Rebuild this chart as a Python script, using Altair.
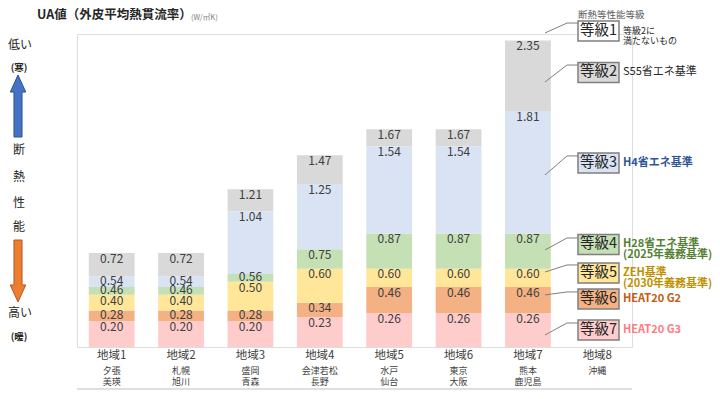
import altair as alt
import pandas as pd

# ---------------- data ----------------
regions = ["地域1", "地域2", "地域3", "地域4", "地域5", "地域6", "地域7", "地域8"]
cities1 = ["夕張", "札幌", "盛岡", "会津若松", "水戸", "東京", "熊本", "沖縄"]
cities2 = ["美瑛", "旭川", "青森", "長野", "仙台", "大阪", "鹿児島", ""]

grades = ["等級7", "等級6", "等級5", "等級4", "等級3", "等級2"]
g7 = [0.20, 0.20, 0.20, 0.23, 0.26, 0.26, 0.26, None]
g6 = [0.28, 0.28, 0.28, 0.34, 0.46, 0.46, 0.46, None]
g5 = [0.40, 0.40, 0.50, 0.60, 0.60, 0.60, 0.60, None]
g4 = [0.46, 0.46, 0.56, 0.75, 0.87, 0.87, 0.87, None]
g3 = [0.54, 0.54, 1.04, 1.25, 1.54, 1.54, 1.81, None]
g2 = [0.72, 0.72, 1.21, 1.47, 1.67, 1.67, 2.35, None]
seg_colors = ["#FFCCCC", "#F4B183", "#FFE699", "#C5E0B4", "#DAE3F3", "#D9D9D9"]

ann_grades = ["等級1", "等級2", "等級3", "等級4", "等級5", "等級6", "等級7"]
ann_desc = ["等級2に\n満たないもの", "S55省エネ基準", "H4省エネ基準",
            "H28省エネ基準\n(2025年義務基準)", "ZEH基準\n(2030年義務基準)",
            "HEAT20 G2", "HEAT20 G3"]
ann_fill = ["#FFFFFF", "#D9D9D9", "#DAE3F3", "#C5E0B4", "#FFE699", "#F4B183", "#FFCCCC"]
ann_text_color = ["#262626", "#262626", "#2F5597", "#548235", "#BF9000", "#C55A11", "#FF7C80"]
# vertical positions of the callouts in UA units
ann_box_y = [2.423, 2.105, 1.411, 0.786, 0.567, 0.368, 0.130]
ann_start_y = [2.408, 2.032, 1.319, 0.744, 0.575, 0.399, 0.092]
ann_elbow_y = [2.484, 2.162, 1.465, 0.836, 0.629, 0.422, 0.184]

y_ticks = [0.0, 0.2, 0.4, 0.6, 0.8, 1.0, 1.2, 1.4, 1.6, 1.8, 2.0, 2.2, 2.4]

# ---------------- tables ----------------
series = [g7, g6, g5, g4, g3, g2]
rows = []
for i, r in enumerate(regions):
    lo = 0.0
    for g, vals in zip(grades, series):
        v = vals[i]
        if v is None:
            continue
        rows.append({"region": r, "grade": g, "lo": lo, "hi": v})
        lo = v
seg_df = pd.DataFrame(rows)

reg_df = pd.DataFrame({"region": regions, "c1": cities1, "c2": cities2})

ann_df = pd.DataFrame({
    "grade": ann_grades, "desc": ann_desc, "fill": ann_fill, "tcol": ann_text_color,
    "box_y": ann_box_y, "start_y": ann_start_y, "elbow_y": ann_elbow_y,
})

FONT = "Noto Sans CJK JP"
W, H = 555, 313
BOX_HALF = 0.077  # half box height in UA units (~10px)
ys = alt.Scale(domain=[0, 2.4], nice=False, zero=False)
xs = alt.Scale(domain=regions, paddingInner=0.34, paddingOuter=0.17)

bars = alt.Chart(seg_df).mark_bar().encode(
    x=alt.X("region:N", scale=xs, sort=regions,
            axis=alt.Axis(labels=False, title=None, domain=True, domainColor="#BFBFBF",
                          ticks=True, tickBand="extent", tickSize=42, tickColor="#BFBFBF",
                          grid=False)),
    y=alt.Y("lo:Q", scale=ys,
            axis=alt.Axis(values=y_ticks, format=".2f", grid=True, gridColor="#E6E6E6",
                          domain=False, ticks=False, labelPadding=14, labelFontSize=13,
                          labelColor="#595959", labelFont=FONT, title=None)),
    y2="hi:Q",
    color=alt.Color("grade:N", scale=alt.Scale(domain=grades, range=seg_colors), legend=None),
)

# value label sits just inside the top of its segment (closer to the top for thin segments)
seg_labels = alt.Chart(seg_df).transform_calculate(
    ly="datum.hi - min(0.044, (datum.hi - datum.lo) / 2 - 0.009)"
).mark_text(
    baseline="middle", fontSize=12, color="#404040", font=FONT
).encode(
    x=alt.X("region:N", scale=xs, sort=regions, axis=None),
    y=alt.Y("ly:Q", scale=ys, axis=None),
    text=alt.Text("hi:Q", format=".2f"),
)

table_bottom = alt.Chart(pd.DataFrame({"a": [0]})).mark_rule(color="#BFBFBF").encode(
    x=alt.value(0), x2=alt.value(W), y=alt.value(H + 42))

reg_names = alt.Chart(reg_df).mark_text(fontSize=11.5, color="#404040", font=FONT,
                                         baseline="middle").encode(
    x=alt.X("region:N", scale=xs, sort=regions, axis=None), y=alt.value(H + 9), text="region:N")
reg_c1 = alt.Chart(reg_df).mark_text(fontSize=9, color="#404040", font=FONT,
                                      baseline="middle").encode(
    x=alt.X("region:N", scale=xs, sort=regions, axis=None), y=alt.value(H + 24), text="c1:N")
reg_c2 = alt.Chart(reg_df).mark_text(fontSize=9, color="#404040", font=FONT,
                                      baseline="middle").encode(
    x=alt.X("region:N", scale=xs, sort=regions, axis=None), y=alt.value(H + 35), text="c2:N")

# callouts
LX0, LX1, BX0, BX1 = 468, 490, 501, 542
leader_diag = alt.Chart(ann_df).mark_rule(color="#7F7F7F", strokeWidth=1).encode(
    x=alt.value(LX0), x2=alt.value(LX1),
    y=alt.Y("start_y:Q", scale=ys, axis=None), y2="elbow_y:Q")
leader_h = alt.Chart(ann_df).mark_rule(color="#7F7F7F", strokeWidth=1).encode(
    x=alt.value(LX1), x2=alt.value(BX0),
    y=alt.Y("elbow_y:Q", scale=ys, axis=None))
boxes = alt.Chart(ann_df).transform_calculate(
    top=f"datum.box_y + {BOX_HALF}", bot=f"datum.box_y - {BOX_HALF}"
).mark_rect(stroke="#7F7F7F", strokeWidth=1.5).encode(
    x=alt.value(BX0), x2=alt.value(BX1),
    y=alt.Y("top:Q", scale=ys, axis=None), y2="bot:Q",
    fill=alt.Fill("fill:N", scale=None))
box_text = alt.Chart(ann_df).mark_text(fontSize=14.5, color="#262626", font=FONT,
                                        baseline="middle", align="center").encode(
    x=alt.value((BX0 + BX1) / 2), y=alt.Y("box_y:Q", scale=ys, axis=None), text="grade:N")

desc1 = alt.Chart(ann_df).transform_filter("datum.grade == '等級1'").mark_text(
    fontSize=9, font=FONT, baseline="middle", align="left", lineBreak="\n", lineHeight=10
).encode(x=alt.value(BX1 + 4), y=alt.Y("box_y:Q", scale=ys, axis=None), text="desc:N",
         color=alt.Color("tcol:N", scale=None))
desc2 = alt.Chart(ann_df).transform_filter("datum.grade == '等級2'").mark_text(
    fontSize=11, font=FONT, baseline="middle", align="left"
).encode(x=alt.value(BX1 + 4), y=alt.Y("box_y:Q", scale=ys, axis=None), text="desc:N",
         color=alt.Color("tcol:N", scale=None))
desc3 = alt.Chart(ann_df).transform_filter("datum.grade != '等級1' && datum.grade != '等級2'").mark_text(
    fontSize=11, font=FONT, fontWeight="bold", baseline="middle", align="left",
    lineBreak="\n", lineHeight=11
).encode(x=alt.value(BX1 + 4), y=alt.Y("box_y:Q", scale=ys, axis=None), text="desc:N",
         color=alt.Color("tcol:N", scale=None))


def label(text, x, y, size=12, color="#262626", weight="normal", align="left"):
    return alt.Chart(pd.DataFrame({"a": [0]})).mark_text(
        fontSize=size, color=color, fontWeight=weight, align=align, baseline="middle", font=FONT
    ).encode(x=alt.value(x), y=alt.value(y), text=alt.value(text))


def arrow(path, x, y, fill, stroke):
    return alt.Chart(pd.DataFrame({"a": [0]})).mark_point(
        shape=path, size=3844, filled=True, fill=fill, stroke=stroke, strokeWidth=1, opacity=1
    ).encode(x=alt.value(x), y=alt.value(y))


UP = "M0,-1 L0.25,-0.45 L0.13,-0.45 L0.13,1 L-0.13,1 L-0.13,-0.45 L-0.25,-0.45 Z"
DOWN = "M0,1 L0.25,0.45 L0.13,0.45 L0.13,-1 L-0.13,-1 L-0.13,0.45 L-0.25,0.45 Z"

deco = [
    label("UA値（外皮平均熱貫流率）", -40, -19, size=12.5, weight="bold"),
    label("(W/㎡K)", 114, -16, size=7.5, color="#7F7F7F"),
    label("断熱等性能等級", BX0, -19, size=9.5, color="#595959"),
    label("低い", -57, 11, size=12, align="center"),
    label("(寒)", -58, 34, size=9.5, weight="bold", align="center"),
    arrow(UP, -59, 72, "#4472C4", "#2F528F"),
    label("断", -58, 116, size=12, align="center"),
    label("熱", -58, 143, size=12, align="center"),
    label("性", -58, 169, size=12, align="center"),
    label("能", -58, 193, size=12, align="center"),
    arrow(DOWN, -59, 237, "#ED7D31", "#AE5A21"),
    label("高い", -57, 279, size=12, align="center"),
    label("(暖)", -58, 303, size=9.5, weight="bold", align="center"),
]

chart = alt.layer(
    bars, seg_labels, table_bottom, reg_names, reg_c1, reg_c2,
    leader_diag, leader_h, boxes, box_text, desc1, desc2, desc3, *deco
).properties(
    width=W, height=H,
    autosize=alt.AutoSizeParams(type="none"),
    padding={"left": 69, "top": 26, "right": 80, "bottom": 44},
).configure_view(stroke=None).configure(font=FONT)

chart.save("out.html", embed_options={"renderer": "svg", "actions": False})
